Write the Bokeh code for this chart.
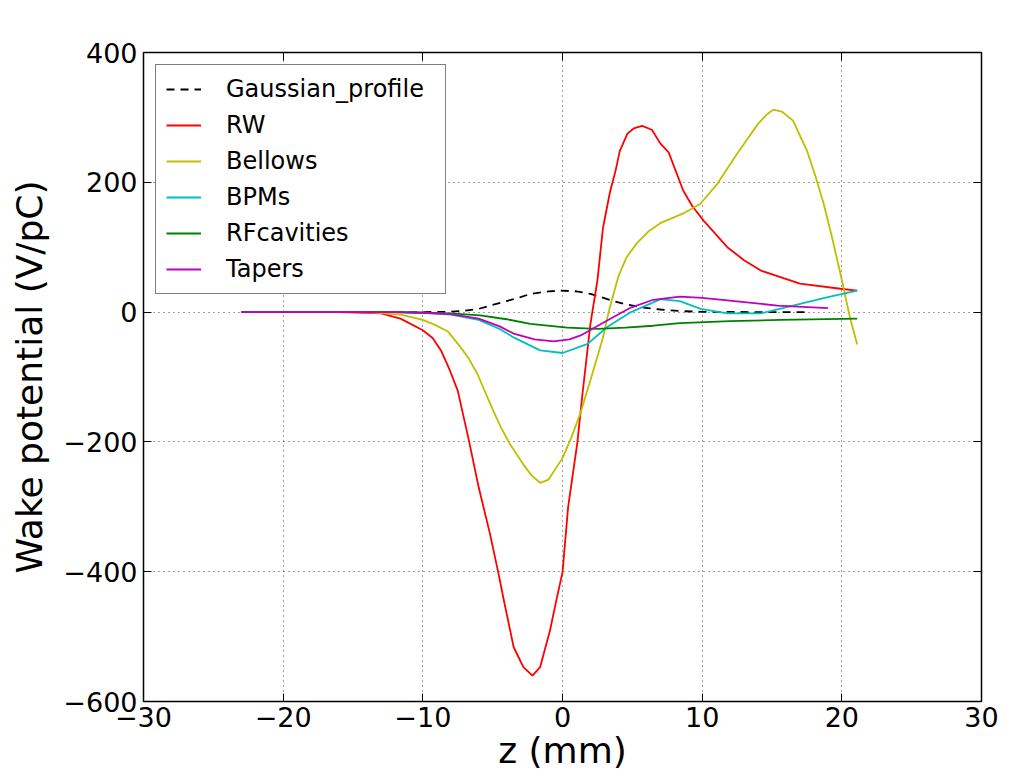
from bokeh.plotting import figure
from bokeh.models import LinearAxis, Legend, LegendItem, FixedTicker
from bokeh.embed import file_html
from bokeh.resources import INLINE

# ---- data ----
z_gauss = [-23, -15, -10, -8.2, -7, -6, -5.2, -4, -3, -2.3, -1, -0.15, 1, 2, 2.5, 3.5, 4.5, 5.8, 7, 8.5, 10, 14, 17.7]
y_gauss = [0, 0, 0, 0.5, 2, 5, 10, 17, 23, 28, 32, 33, 32, 28, 25, 18, 12, 7, 4, 1.5, 0.5, 0, 0]

z_rw = [-23, -16, -14, -13, -11.6, -10, -9.3, -8.7, -8.1, -7.5, -6.7, -6.0, -5.2, -4.6, -4.2, -3.5, -2.8, -2.15,
        -1.6, -0.9, -0.4, 0, 0.4, 1.07, 1.4, 2.0, 2.5, 2.9, 3.4, 3.8, 4.1, 4.65, 5.1, 5.7, 6.4, 7.0, 7.6, 8.65,
        9.3, 10.1, 11.8, 13.0, 14.2, 17.0, 19.9, 21.1]
y_rw = [0, 0, -1, -2, -10, -28, -40, -59, -88, -121, -198, -270, -341, -401, -444, -516, -547, -560,
        -547, -491, -440, -401, -301, -200, -132, -18, 49, 130, 185, 218, 248, 275, 283, 287, 281, 260, 246, 187,
        163, 141, 100, 80, 64, 44, 36, 33]

z_bel = [-23, -14, -11.6, -10, -9.1, -8.2, -7.3, -6.7, -6.1, -5.0, -4.4, -3.8, -2.8, -2.2, -1.6, -1.0, 0, 0.6,
         1.28, 2.0, 2.9, 3.3, 4.0, 4.6, 5.36, 6.2, 7.0, 8.65, 9.87, 11.1, 12.5, 14.0, 14.6, 15.1, 15.7, 16.5,
         17.5, 18.1, 18.7, 19.3, 19.9, 20.6, 21.1]
y_bel = [0, 0, -4, -12, -20, -30, -54, -72, -95, -150, -178, -202, -235, -252, -263, -258, -225, -195,
         -156, -105, -39, 0, 55, 85, 107, 125, 137, 152, 167, 198, 244, 290, 304, 312, 309, 295,
         249, 210, 167, 115, 59, -10, -50]

z_bpm = [-23, -12, -10, -8, -6, -4.5, -3.5, -1.6, 0, 1.8, 3.2, 4.9, 6.5, 7.0, 8.4, 9.9, 11.8, 14.2, 16.5, 19, 21.1]
y_bpm = [0, 0, -1, -4, -12, -26, -39, -59, -63, -49, -23, 0, 15, 20, 17, 5, -2, -2, 10, 23, 33]

z_rf = [-23, -12, -10, -8, -5.9, -4, -2.3, 0.35, 2.5, 4.5, 6.5, 8.4, 12, 15.6, 21.1]
y_rf = [0, 0, -1, -2, -5, -11, -18, -24, -26, -24, -21, -17, -14, -12, -10]

z_tap = [-23, -12, -10, -8, -6, -4.5, -3.5, -2, -0.65, 0.5, 1.3, 3.2, 4.9, 6.5, 8.4, 10, 11.8, 15.4, 19.0]
y_tap = [0, 0, -1, -3, -10, -22, -33, -42, -45, -42, -36, -13, 7, 19, 24, 22, 18, 10, 6]

x_ticks = [-30, -20, -10, 0, 10, 20, 30]
y_ticks = [-600, -400, -200, 0, 200, 400]

FONT = "DejaVu Sans"

p = figure(width=1023, height=778, output_backend="svg", toolbar_location=None,
           x_range=(-30, 30), y_range=(-600, 400),
           min_border_left=143, min_border_right=42, min_border_top=52, min_border_bottom=77,
           background_fill_color="white", border_fill_color="white",
           x_axis_label="z (mm)", y_axis_label="Wake potential (V/pC)")

p.outline_line_color = "black"
p.outline_line_width = 1.5

for ax in p.xaxis + p.yaxis:
    ax.axis_line_color = None
    ax.major_tick_in = 8
    ax.major_tick_out = 0
    ax.minor_tick_in = 0
    ax.minor_tick_out = 0
    ax.major_tick_line_color = "black"
    ax.major_tick_line_width = 1
    ax.major_label_text_font = FONT
    ax.major_label_text_font_size = "27px"
    ax.major_label_text_color = "black"
    ax.axis_label_text_font = FONT
    ax.axis_label_text_font_size = "36px"
    ax.axis_label_text_font_style = "normal"
    ax.axis_label_text_color = "black"
p.xaxis.major_label_standoff = 5
p.xaxis.axis_label_standoff = 0
p.yaxis.major_label_standoff = 6
p.yaxis.axis_label_standoff = 10
p.xaxis.ticker = FixedTicker(ticks=x_ticks)
p.yaxis.ticker = FixedTicker(ticks=y_ticks)

# top and right axes: ticks only
top = LinearAxis(ticker=FixedTicker(ticks=x_ticks), axis_line_color=None, major_tick_in=8, major_tick_out=0,
                 minor_tick_in=0, minor_tick_out=0, major_label_text_font_size="0px", major_label_standoff=0)
right = LinearAxis(ticker=FixedTicker(ticks=y_ticks), axis_line_color=None, major_tick_in=8, major_tick_out=0,
                   minor_tick_in=0, minor_tick_out=0, major_label_text_font_size="0px", major_label_standoff=0)
p.add_layout(top, "above")
p.add_layout(right, "right")

p.xgrid.ticker = FixedTicker(ticks=x_ticks)
p.ygrid.ticker = FixedTicker(ticks=y_ticks)
for g in (p.xgrid, p.ygrid):
    g.grid_line_color = "black"
    g.grid_line_alpha = 0.75
    g.grid_line_dash = "1 4"
    g.grid_line_width = 1

lw = 1.8
r_g = p.line(z_gauss, y_gauss, line_color="black", line_dash="8 6", line_width=lw)
r_rw = p.line(z_rw, y_rw, line_color="#ff0000", line_width=lw)
r_bel = p.line(z_bel, y_bel, line_color="#bfbf00", line_width=lw)
r_bpm = p.line(z_bpm, y_bpm, line_color="#00bfbf", line_width=lw)
r_rf = p.line(z_rf, y_rf, line_color="#008000", line_width=lw)
r_tap = p.line(z_tap, y_tap, line_color="#bf00bf", line_width=lw)

legend = Legend(items=[
    LegendItem(label="Gaussian_profile", renderers=[r_g]),
    LegendItem(label="RW", renderers=[r_rw]),
    LegendItem(label="Bellows", renderers=[r_bel]),
    LegendItem(label="BPMs", renderers=[r_bpm]),
    LegendItem(label="RFcavities", renderers=[r_rf]),
    LegendItem(label="Tapers", renderers=[r_tap]),
], location="top_left")
legend.margin = 12
legend.padding = 10
legend.spacing = 8
legend.label_height = 24
legend.glyph_height = 24
legend.glyph_width = 35
legend.label_standoff = 25
legend.label_width = 209
legend.label_text_font = FONT
legend.label_text_font_size = "24px"
legend.label_text_color = "black"
legend.border_line_color = "black"
legend.border_line_width = 1.5
legend.background_fill_color = "white"
legend.background_fill_alpha = 1
p.add_layout(legend, "center")

open("out.html", "w").write(file_html(p, INLINE))
